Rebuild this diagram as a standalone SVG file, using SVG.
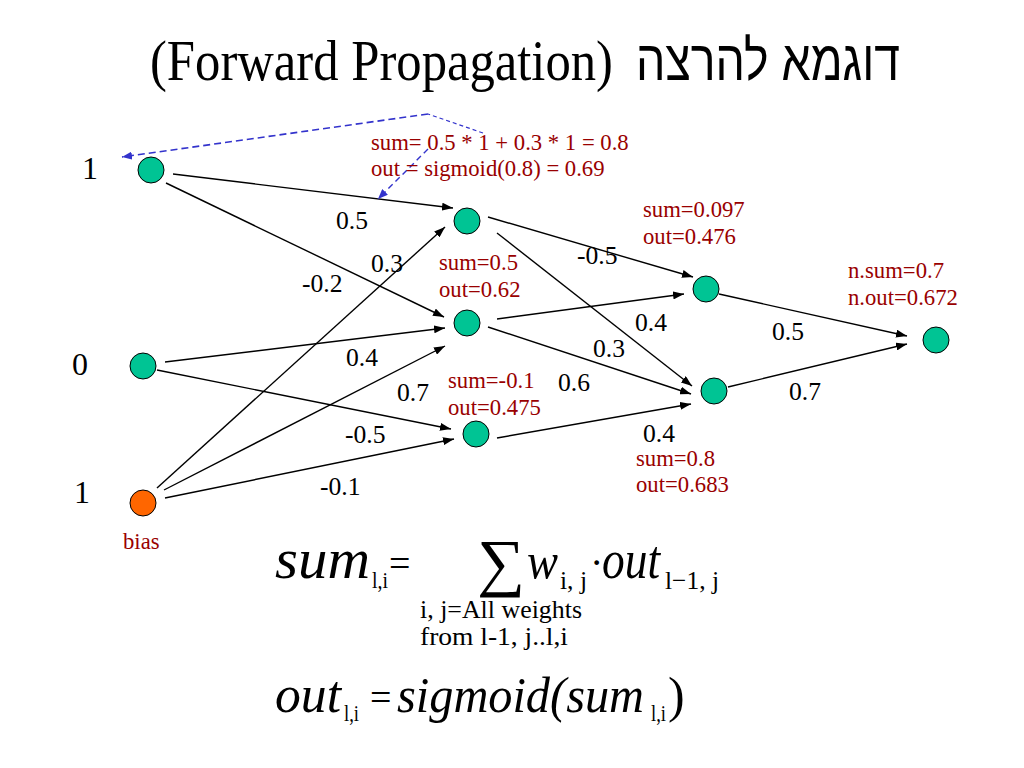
<svg xmlns="http://www.w3.org/2000/svg" width="1024" height="768" viewBox="0 0 1024 768">
<defs>
<marker id="ah" markerUnits="userSpaceOnUse" markerWidth="11" markerHeight="8" refX="11" refY="4" orient="auto"><path d="M0,0 L11,4 L0,8 z" fill="#000"/></marker>
<marker id="bh" markerUnits="userSpaceOnUse" markerWidth="10" markerHeight="8" refX="10" refY="4" orient="auto"><path d="M0,0 L10,4 L0,8 z" fill="#3333cc"/></marker>
<style>
.node{fill:#00c494;stroke:#000;stroke-width:1}
.bias{fill:#ff6600;stroke:#000;stroke-width:1}
.edge{stroke:#000;stroke-width:1.4;fill:none;marker-end:url(#ah)}
.w{font-family:"Liberation Serif","Times New Roman","DejaVu Serif",serif;font-size:25.6px;fill:#000}
.r{font-family:"Liberation Serif","Times New Roman","DejaVu Serif",serif;font-size:22.7px;fill:#990000}
.big{font-family:"Liberation Serif","Times New Roman","DejaVu Serif",serif;font-size:32px;fill:#000}
.fi{font-family:"Liberation Serif","Times New Roman","DejaVu Serif",serif;font-style:italic;fill:#000}
.fu{font-family:"Liberation Serif","Times New Roman","DejaVu Serif",serif;fill:#000}
</style>
</defs>
<rect width="1024" height="768" fill="#fff"/>
<g id="title">
<text x="150" y="80" font-family="'Liberation Serif','Times New Roman','DejaVu Serif',serif" font-size="57" textLength="463" lengthAdjust="spacingAndGlyphs">(Forward Propagation)</text>
<text x="636" y="80" font-family="'Liberation Sans',Arial,'DejaVu Sans',sans-serif" font-size="56" textLength="264" lengthAdjust="spacingAndGlyphs">דוגמא להרצה</text>
</g>
<g id="connectors">
<line class="edge" x1="173" y1="174" x2="453" y2="208"/>
<line class="edge" x1="166" y1="183" x2="444" y2="317"/>
<line class="edge" x1="165" y1="362" x2="445" y2="328"/>
<line class="edge" x1="157" y1="370" x2="451" y2="429"/>
<line class="edge" x1="157" y1="488" x2="445" y2="227"/>
<line class="edge" x1="164" y1="490" x2="445" y2="346"/>
<line class="edge" x1="165" y1="498" x2="454" y2="439"/>
<line class="edge" x1="488" y1="217" x2="693" y2="277"/>
<line class="edge" x1="497" y1="233" x2="692" y2="386"/>
<line class="edge" x1="497" y1="319" x2="684" y2="294"/>
<line class="edge" x1="488" y1="327" x2="691" y2="394"/>
<line class="edge" x1="497" y1="438" x2="691" y2="404"/>
<line class="edge" x1="719" y1="294" x2="907" y2="336"/>
<line class="edge" x1="728" y1="387" x2="907" y2="344"/>
<path d="M483,133 L428,114" stroke="#3333cc" stroke-width="1.2" stroke-dasharray="4 3" fill="none"/>
<path d="M428,114 L122,157" stroke="#3333cc" stroke-width="1.6" stroke-dasharray="7 4" fill="none" marker-end="url(#bh)"/>
<path d="M428,149 L378,199" stroke="#3333cc" stroke-width="1.4" stroke-dasharray="6 4" fill="none" marker-end="url(#bh)"/>
</g>
<g id="weights">
<text class="w" x="336" y="229">0.5</text>
<text class="w" x="302" y="292">-0.2</text>
<text class="w" x="371" y="272">0.3</text>
<text class="w" x="346" y="366">0.4</text>
<text class="w" x="397" y="401">0.7</text>
<text class="w" x="345" y="443">-0.5</text>
<text class="w" x="320" y="495">-0.1</text>
<text class="w" x="577" y="264">-0.5</text>
<text class="w" x="635" y="331">0.4</text>
<text class="w" x="593" y="357">0.3</text>
<text class="w" x="558" y="391">0.6</text>
<text class="w" x="643" y="442">0.4</text>
<text class="w" x="772" y="340">0.5</text>
<text class="w" x="789" y="400">0.7</text>
</g>
<g id="node-in1"><circle class="node" cx="151" cy="170" r="13"/><text class="big" x="82" y="179">1</text></g>
<g id="node-in0"><circle class="node" cx="143" cy="366" r="13"/><text class="big" x="72" y="375">0</text></g>
<g id="node-bias"><circle class="bias" cx="143" cy="503" r="13"/><text class="big" x="74" y="503">1</text><text class="r" x="123" y="549">bias</text></g>
<g id="node-h1"><circle class="node" cx="467" cy="221" r="13"/>
<text class="r" x="371" y="150">sum= 0.5 * 1 + 0.3 * 1 = 0.8</text>
<text class="r" x="371" y="176">out = sigmoid(0.8) = 0.69</text></g>
<g id="node-h2"><circle class="node" cx="467" cy="323" r="13"/>
<text class="r" x="439" y="270">sum=0.5</text>
<text class="r" x="439" y="297">out=0.62</text></g>
<g id="node-h3"><circle class="node" cx="476" cy="434" r="13"/>
<text class="r" x="448" y="388">sum=-0.1</text>
<text class="r" x="448" y="415">out=0.475</text></g>
<g id="node-g1"><circle class="node" cx="706" cy="289" r="13"/>
<text class="r" x="643" y="217">sum=0.097</text>
<text class="r" x="643" y="244">out=0.476</text></g>
<g id="node-g2"><circle class="node" cx="714" cy="391" r="13"/>
<text class="r" x="636" y="466">sum=0.8</text>
<text class="r" x="636" y="492">out=0.683</text></g>
<g id="node-out"><circle class="node" cx="936" cy="340" r="13"/>
<text class="r" x="848" y="278">n.sum=0.7</text>
<text class="r" x="848" y="305">n.out=0.672</text></g>
<g id="formula-sum">
<text class="fi" x="275" y="578" font-size="58" textLength="95" lengthAdjust="spacingAndGlyphs">sum</text>
<text class="fu" x="372" y="588" font-size="24" textLength="16" lengthAdjust="spacingAndGlyphs">l,i</text>
<text class="fu" x="389" y="576" font-size="38">=</text>
<text class="fu" x="477" y="584" font-size="64" textLength="48" lengthAdjust="spacingAndGlyphs">∑</text>
<text class="fi" x="527" y="578" font-size="50" textLength="31" lengthAdjust="spacingAndGlyphs">w</text>
<text class="fu" x="560" y="589" font-size="26" textLength="27" lengthAdjust="spacingAndGlyphs">i, j</text>
<text class="fu" x="590" y="576" font-size="40">·</text>
<text class="fi" x="602" y="578" font-size="54" textLength="58" lengthAdjust="spacingAndGlyphs">out</text>
<text class="fu" x="665" y="589" font-size="26" textLength="54" lengthAdjust="spacingAndGlyphs">l−1, j</text>
<text class="fu" x="420" y="618" font-size="26" textLength="162" lengthAdjust="spacingAndGlyphs">i, j=All weights</text>
<text class="fu" x="420" y="645" font-size="26" textLength="148" lengthAdjust="spacingAndGlyphs">from l-1, j..l,i</text>
</g>
<g id="formula-out">
<text class="fi" x="275" y="712" font-size="52" textLength="66" lengthAdjust="spacingAndGlyphs">out</text>
<text class="fu" x="344" y="721" font-size="24" textLength="15" lengthAdjust="spacingAndGlyphs">l,i</text>
<text class="fu" x="370" y="710" font-size="38">=</text>
<text class="fi" x="397" y="712" font-size="50" textLength="247" lengthAdjust="spacingAndGlyphs">sigmoid(sum</text>
<text class="fu" x="651" y="721" font-size="24" textLength="15" lengthAdjust="spacingAndGlyphs">l,i</text>
<text class="fu" x="668" y="712" font-size="50">)</text>
</g>
</svg>
